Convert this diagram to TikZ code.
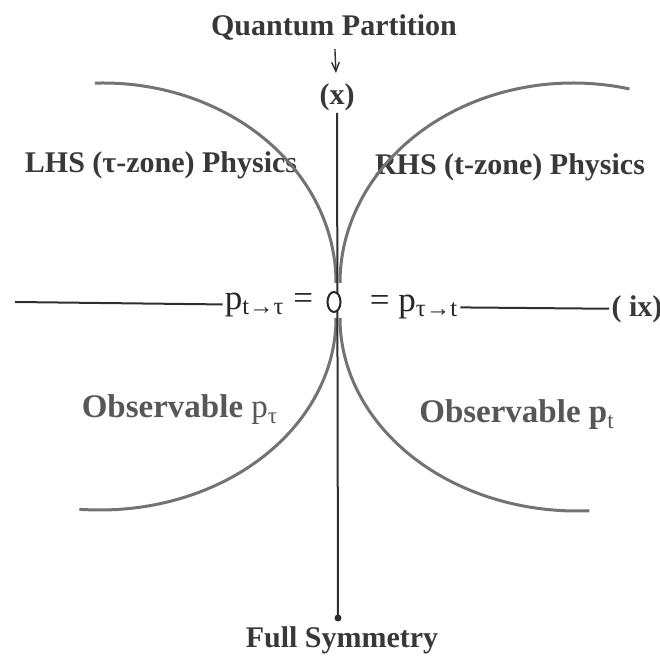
\documentclass[tikz,border=0pt]{standalone}
\usepackage{fontspec}
\setmainfont{Liberation Serif}
\usepackage{tikz}
\usetikzlibrary{arrows,shapes.geometric}

\tikzset{
  lbl/.style={font=\bfseries\fontsize{15}{18}\selectfont,text=black!78,inner sep=1pt},
  obs/.style={font=\bfseries\fontsize{16.5}{20}\selectfont,text=black!66,inner sep=1pt},
  plbl/.style={font=\fontsize{17.5}{20}\selectfont,text=black!85,inner sep=1pt},
  zone/.style={line width=1.5pt,draw=black!55},
  axis/.style={line width=1pt,draw=black!82}
}

\begin{document}
\begin{tikzpicture}[x=0.5pt,y=-0.5pt]
    \useasboundingbox (0,0) rectangle (660,656);
    \node[lbl] (title) at (334,28) {Quantum Partition};
    \node[lbl] (xlab) at (337,97) {(x)};
    \node[lbl] (full) at (342,640) {Full Symmetry};
    \node[lbl] (lhs) at (161,165) {LHS (τ-zone) Physics};
    \node[lbl] (rhs) at (510,167) {RHS (t-zone) Physics};
    \node[obs] (obsL) at (180,410) {Observable {\mdseries p\textsubscript{τ}}};
    \node[obs] (obsR) at (517,415) {Observable p\textsubscript{\normalfont t}};
    \node[plbl] (pL) at (269,305) {p\textsubscript{t→τ} =};
    \node[plbl] (pR) at (414,307) {= p\textsubscript{τ→t}};
    \node[lbl] (ix) at (637,309) {( ix)};
    \coordinate (lend) at (15,302);
    \coordinate (bot) at (338,618);
    % the four zones
    \draw[zone] (336,283) arc[start angle=0,end angle=-92,x radius=233,y radius=200];
    \draw[zone] (340,283) arc[start angle=-180,end angle=-76,x radius=233,y radius=200];
    \draw[zone] (336,318) arc[start angle=0,end angle=95,x radius=236,y radius=192];
    \draw[zone] (340,318) arc[start angle=180,end angle=87,x radius=237,y radius=193];
    \path[axis]
      (xlab) edge (bot)
      (lend) edge (pL)
      (pR) edge (ix);
    \fill[black!82] (bot) circle (3.5);
    \node[draw=black!85,fill=white,line width=1pt,ellipse,minimum width=6.5pt,
      minimum height=10pt,inner sep=0pt] (zero) at (334,302) {};
    \draw[->,>=angle 45,black!82,line width=0.7pt,shorten <=3pt,shorten >=4pt] (title) -- (xlab);
\end{tikzpicture}
\end{document}
